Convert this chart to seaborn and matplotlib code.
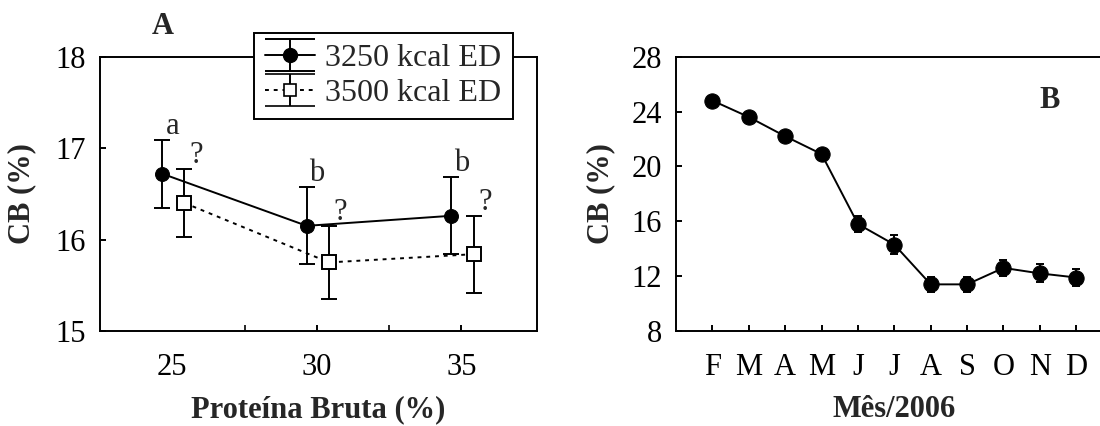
import numpy as np
import pandas as pd
import matplotlib
matplotlib.use("Agg")
import matplotlib.pyplot as plt
import seaborn as sns

# Painel A - proteína bruta x CB (%)
protein = [25, 30, 35]
cb_3250 = [16.72, 16.15, 16.26]
err_3250 = [0.37, 0.42, 0.42]
cb_3500 = [16.40, 15.75, 15.84]
err_3500 = [0.37, 0.40, 0.42]
letters_3250 = ["a", "b", "b"]
letters_3500 = ["?", "?", "?"]
series_labels = ["3250 kcal ED", "3500 kcal ED"]

# Painel B - CB (%) ao longo de 2006
months = ["F", "M", "A", "M", "J", "J", "A", "S", "O", "N", "D"]
cb_month = [24.8, 23.6, 22.2, 20.9, 15.8, 14.3, 11.4, 11.4, 12.6, 12.2, 11.9]
err_month = [0.3, 0.3, 0.3, 0.3, 0.6, 0.7, 0.55, 0.55, 0.6, 0.65, 0.6]

sns.set_style("ticks")
plt.rcParams["font.family"] = ["Liberation Serif", "DejaVu Serif"]
FS = 22
LW = 1.4

fig = plt.figure(figsize=(11, 4.26), dpi=100)
axA = fig.add_axes([0.0909, 0.223, 0.397, 0.644])
axB = fig.add_axes([0.6145, 0.223, 0.397, 0.644])

dodge_lo, dodge_hi = -0.35, 0.42
xa = np.array(protein, dtype=float) + dodge_lo
xb = np.array(protein, dtype=float) + dodge_hi

# barras de erro primeiro, marcadores por cima
axA.errorbar(xa, cb_3250, yerr=err_3250, fmt="none", ecolor="k", elinewidth=LW,
             capsize=5.5, capthick=LW, zorder=2)
axA.errorbar(xb, cb_3500, yerr=err_3500, fmt="none", ecolor="k", elinewidth=LW,
             capsize=5.5, capthick=LW, zorder=2)
sns.lineplot(x=xa, y=cb_3250, ax=axA, color="k", lw=LW, marker="o", markersize=10,
             markeredgecolor="k", markerfacecolor="k", zorder=3)
sns.lineplot(x=xb, y=cb_3500, ax=axA, color="k", lw=LW, linestyle=(0, (2, 2.5)),
             marker="s", markersize=10, markerfacecolor="white",
             markeredgecolor="k", markeredgewidth=1.4, zorder=3)

for x, y, e, t in zip(xa, cb_3250, err_3250, letters_3250):
    axA.text(x + 0.35, y + e + 0.15, t, ha="center", va="center", fontsize=FS)
for x, y, e, t in zip(xb, cb_3500, err_3500, letters_3500):
    axA.text(x + 0.4, y + e + 0.15, t, ha="center", va="center", fontsize=FS)

axA.set_xlim(22.5, 37.6)
axA.set_ylim(15, 18)
axA.set_xticks(protein)
axA.set_xticklabels([str(p) for p in protein])
axA.set_xticks([27.5, 32.5], minor=True)
axA.tick_params(axis="x", which="both", pad=16)
axA.tick_params(axis="x", which="minor", direction="in", length=4, width=LW)
axA.xaxis.get_major_ticks()[0].tick1line.set_visible(False)
axA.set_yticks([15, 16, 17, 18])
axA.set_xlabel("Proteína Bruta (%)", fontsize=FS, fontweight="bold", labelpad=9)
axA.set_ylabel("CB (%)", fontsize=FS, fontweight="bold", labelpad=14)
axA.text(24.66, 18.33, "A", fontsize=FS, fontweight="bold", ha="center", va="center",
         clip_on=False)

# legenda com barras de erro largas
h1 = axA.errorbar([np.nan], [np.nan], yerr=[0.1], fmt="-o", color="k", lw=LW,
                  ms=10, capsize=18, capthick=LW, elinewidth=LW)
h2 = axA.errorbar([np.nan], [np.nan], yerr=[0.1], fmt="s", linestyle=(0, (2, 2.5)),
                  color="k", lw=LW, ms=9, mfc="white", mec="k", mew=1.2,
                  capsize=18, capthick=LW, elinewidth=LW)
leg = axA.legend([h1, h2], series_labels, loc="upper right",
                 bbox_to_anchor=(0.945, 1.088), fontsize=23, frameon=True,
                 fancybox=False, edgecolor="k", framealpha=1, handlelength=1.58,
                 handletextpad=0.31, labelspacing=0.17, borderpad=0.35,
                 borderaxespad=0)
leg.get_frame().set_linewidth(LW)

# Painel B
xm = np.arange(len(months))
axB.errorbar(xm, cb_month, yerr=err_month, fmt="none", ecolor="k", elinewidth=LW,
             capsize=3, capthick=LW, zorder=2)
sns.lineplot(x=xm, y=cb_month, ax=axB, color="k", lw=LW, marker="o", markersize=11,
             markeredgecolor="k", markerfacecolor="k", zorder=3)
axB.set_xlim(-1, 11)
axB.set_ylim(8, 28)
axB.set_yticks([8, 12, 16, 20, 24, 28])
axB.set_xticks(xm)
axB.set_xticklabels(months)
axB.tick_params(axis="x", pad=16)
axB.set_xlabel("Mês/2006", fontsize=FS, fontweight="bold", labelpad=9)
axB.set_ylabel("CB (%)", fontsize=FS, fontweight="bold", labelpad=12)
axB.text(9.28, 24.8, "B", fontsize=FS, fontweight="bold", ha="center", va="center")

for ax in (axA, axB):
    for s in ax.spines.values():
        s.set_linewidth(LW)
        s.set_color("k")
    ax.tick_params(which="major", direction="in", length=4, width=LW,
                   labelsize=FS, colors="k")
    ax.tick_params(axis="y", pad=10)

fig.savefig("out.png", dpi=100)
